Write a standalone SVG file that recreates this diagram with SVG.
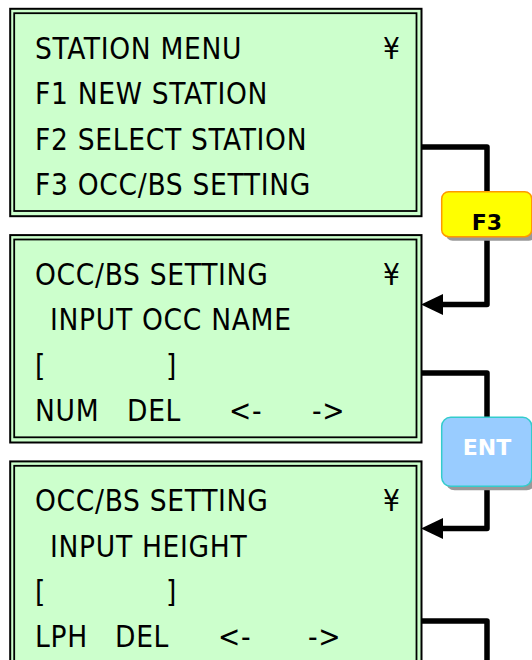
<svg xmlns="http://www.w3.org/2000/svg" width="532" height="660" viewBox="0 0 532 660">
<style>
.outer{fill:#CCFFCC;stroke:#000;stroke-width:2}
.inner{fill:none;stroke:#000;stroke-width:1.8}
.t{font-family:"DejaVu Sans Condensed","DejaVu Sans",sans-serif;font-stretch:condensed;font-size:29.5px;letter-spacing:0.7px;fill:#000}
.conn{fill:none;stroke:#000;stroke-width:5.5;stroke-linejoin:round}
.btxt{font-family:"DejaVu Sans","Liberation Sans",sans-serif;font-weight:bold;font-size:22px;text-anchor:middle}
</style>
<defs>
<marker id="arr" viewBox="0 0 22 21" refX="10" refY="10.5" markerWidth="22" markerHeight="21" markerUnits="userSpaceOnUse" orient="auto">
<path d="M0,0 L22,10.5 L0,21 z" fill="#000"/>
</marker>
</defs>
<g id="connectors">
<path class="conn" d="M421,147 H487 V304.5 H433" marker-end="url(#arr)"/>
<path class="conn" d="M421,373 H487 V528.5 H433" marker-end="url(#arr)"/>
<path class="conn" d="M421,621 H487 V662"/>
</g>
<g id="screen1">
<rect class="outer" x="10.2" y="8.8" width="411.3" height="207.4"/>
<rect class="inner" x="14.2" y="13.2" width="402.3" height="197.8"/>
<text class="t" x="35" y="58.5">STATION MENU</text>
<text class="t" x="383" y="58.5">¥</text>
<text class="t" x="35" y="104">F1 NEW STATION</text>
<text class="t" x="35" y="149.5">F2 SELECT STATION</text>
<text class="t" x="35" y="194.5">F3 OCC/BS SETTING</text>
</g>
<g id="screen2">
<rect class="outer" x="10.2" y="235.1" width="411.3" height="207.4"/>
<rect class="inner" x="14.2" y="239.5" width="402.3" height="197.8"/>
<text class="t" x="35" y="284.8">OCC/BS SETTING</text>
<text class="t" x="383" y="284.8">¥</text>
<text class="t" x="50" y="330.3">INPUT OCC NAME</text>
<text class="t" x="35" y="375.8">[</text>
<text class="t" x="166" y="375.8">]</text>
<text class="t" x="35" y="420.8">NUM</text>
<text class="t" x="127" y="420.8">DEL</text>
<text class="t" x="229" y="420.8">&lt;-</text>
<text class="t" x="312" y="420.8">-&gt;</text>
</g>
<g id="screen3">
<rect class="outer" x="10.2" y="461.4" width="411.3" height="207.4"/>
<rect class="inner" x="14.2" y="465.8" width="402.3" height="197.8"/>
<text class="t" x="35" y="511.1">OCC/BS SETTING</text>
<text class="t" x="383" y="511.1">¥</text>
<text class="t" x="50" y="556.6">INPUT HEIGHT</text>
<text class="t" x="35" y="602.1">[</text>
<text class="t" x="166" y="602.1">]</text>
<text class="t" x="35" y="647.1">LPH</text>
<text class="t" x="115" y="647.1">DEL</text>
<text class="t" x="218" y="647.1">&lt;-</text>
<text class="t" x="308" y="647.1">-&gt;</text>
</g>
<g id="key-f3">
<rect x="445.7" y="195.7" width="90" height="45" rx="7" fill="#999"/>
<rect x="441.7" y="191.7" width="90" height="45" rx="7" fill="#FFFF00" stroke="#FF9900" stroke-width="1.5"/>
<text class="btxt" x="487" y="229.5" fill="#000">F3</text>
</g>
<g id="key-ent">
<rect x="445.7" y="421.3" width="90" height="69" rx="9" fill="#999"/>
<rect x="441.7" y="417.3" width="90" height="69" rx="9" fill="#99CCFF" stroke="#33CCCC" stroke-width="1.5"/>
<text class="btxt" x="487" y="455" fill="#FFF">ENT</text>
</g>
</svg>
